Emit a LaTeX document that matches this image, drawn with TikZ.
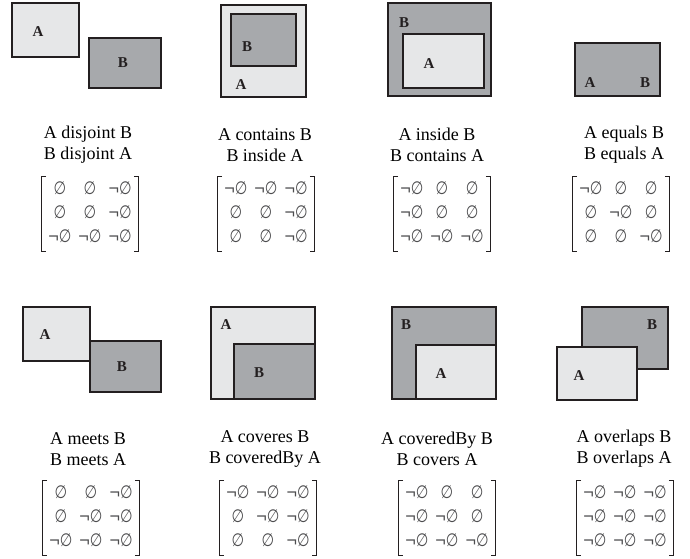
\documentclass[tikz,border=0pt]{standalone}
\usepackage{fontspec}
\usepackage{graphicx}
\setmainfont{Liberation Serif}
\newfontfamily\matfont{Liberation Sans}
\newfontfamily\empfont{DejaVu Sans}
\usepackage{tikz}
\usetikzlibrary{positioning}

\definecolor{lightfill}{HTML}{E6E7E8}
\definecolor{darkfill}{HTML}{A7A9AC}
\definecolor{edgecol}{HTML}{231F20}
\definecolor{entrycol}{HTML}{4D4D4F}

\newcommand{\emp}{\scalebox{.8}[1]{\empfont\fontsize{18}{24}\selectfont ∅}}
\newcommand{\nemp}{¬\emp}
\newenvironment{relmat}{\begin{tabular}{@{\hspace{6pt}}c@{\hspace{7pt}}c@{\hspace{7pt}}c@{\hspace{6pt}}}}{\end{tabular}}

\begin{document}
\begin{tikzpicture}[
    x=1pt, y=-1pt,
    light/.style={draw=edgecol, fill=lightfill, line width=1.1pt},
    dark/.style={draw=edgecol, fill=darkfill, line width=1.1pt},
    lbl/.style={font=\fontsize{15}{18}\selectfont\bfseries, text=edgecol, inner sep=0pt},
    caption/.style={align=center, font=\fontsize{18}{21}\selectfont, inner sep=0pt},
    mat/.style={font=\matfont\fontsize{18}{24}\selectfont, text=entrycol, inner sep=1pt},
    brk/.style={draw=edgecol, line width=0.7pt}
]
\useasboundingbox (0,0) rectangle (690,558);

% disjoint
\draw[light] (12,3) rectangle (79,57);
\draw[dark] (89,38) rectangle (161,88);
\node[lbl] (disA) at (38,32) {A};
\node[lbl] (disB) at (123,63) {B};
% contains
\draw[light] (221,5) rectangle (306,97);
\draw[dark] (231,14) rectangle (296,66);
\node[lbl] (conB) at (247,47) {B};
\node[lbl] (conA) at (241,85) {A};
% inside
\draw[dark] (388,3) rectangle (491,96);
\draw[light] (403,34) rectangle (484,88);
\node[lbl] (insB) at (404,23) {B};
\node[lbl] (insA) at (429,64) {A};
% equals
\draw[dark] (575,43) rectangle (660,96);
\node[lbl] (equA) at (590,83) {A};
\node[lbl] (equB) at (645,83) {B};

% meets
\draw[light] (23,307) rectangle (90,361);
\draw[dark] (90,341) rectangle (161,392);
\node[lbl] (meeA) at (45,335) {A};
\node[lbl] (meeB) at (122,367) {B};
% covers
\draw[light] (211,307) rectangle (315,399);
\draw[dark] (234,344) rectangle (315,399);
\node[lbl] (covA) at (226,325) {A};
\node[lbl] (covB) at (259,373) {B};
% coveredBy
\draw[dark] (392,307) rectangle (496,399);
\draw[light] (416,345) rectangle (496,399);
\node[lbl] (cbyB) at (406,325) {B};
\node[lbl] (cbyA) at (441,374) {A};
% overlaps
\draw[dark] (582,307) rectangle (668,369);
\draw[light] (557,347) rectangle (637,400);
\node[lbl] (ovlB) at (652,325) {B};
\node[lbl] (ovlA) at (579,376) {A};

% captions
\node[caption] (capDis) at (88,145) {A disjoint B\\B disjoint A};
\node[caption] (capCon) at (265,145) {A contains B\\B inside A};
\node[caption] (capIns) at (437,145) {A inside B\\B contains A};
\node[caption] (capEqu) at (624,145) {A equals B\\B equals A};
\node[caption] (capMee) at (88,449) {A meets B\\B meets A};
\node[caption] (capCov) at (265,449) {A coveres B\\B coveredBy A};
\node[caption] (capCby) at (437,449) {A coveredBy B\\B covers A};
\node[caption] (capOvl) at (624,449) {A overlaps B\\B overlaps A};

% matrices
\node[mat] (matDis) at (90,214) {\begin{relmat}
  \emp & \emp & \nemp\\ \emp & \emp & \nemp\\ \nemp & \nemp & \nemp\end{relmat}};
\node[mat] (matCon) at (266,214) {\begin{relmat}
  \nemp & \nemp & \nemp\\ \emp & \emp & \nemp\\ \emp & \emp & \nemp\end{relmat}};
\node[mat] (matIns) at (442,214) {\begin{relmat}
  \nemp & \emp & \emp\\ \nemp & \emp & \emp\\ \nemp & \nemp & \nemp\end{relmat}};
\node[mat] (matEqu) at (621,214) {\begin{relmat}
  \nemp & \emp & \emp\\ \emp & \nemp & \emp\\ \emp & \emp & \nemp\end{relmat}};
\node[mat] (matMee) at (91,518) {\begin{relmat}
  \emp & \emp & \nemp\\ \emp & \nemp & \nemp\\ \nemp & \nemp & \nemp\end{relmat}};
\node[mat] (matCov) at (268,518) {\begin{relmat}
  \nemp & \nemp & \nemp\\ \emp & \nemp & \nemp\\ \emp & \emp & \nemp\end{relmat}};
\node[mat] (matCby) at (447,518) {\begin{relmat}
  \nemp & \emp & \emp\\ \nemp & \nemp & \emp\\ \nemp & \nemp & \nemp\end{relmat}};
\node[mat] (matOvl) at (625,518) {\begin{relmat}
  \nemp & \nemp & \nemp\\ \nemp & \nemp & \nemp\\ \nemp & \nemp & \nemp\end{relmat}};

% brackets
\foreach \m in {matDis,matCon,matIns,matEqu,matMee,matCov,matCby,matOvl}{
  \draw[brk] ([xshift=5pt]\m.north west) -- (\m.north west) -- (\m.south west) -- ([xshift=5pt]\m.south west);
  \draw[brk] ([xshift=-5pt]\m.north east) -- (\m.north east) -- (\m.south east) -- ([xshift=-5pt]\m.south east);
}
\end{tikzpicture}
\end{document}
